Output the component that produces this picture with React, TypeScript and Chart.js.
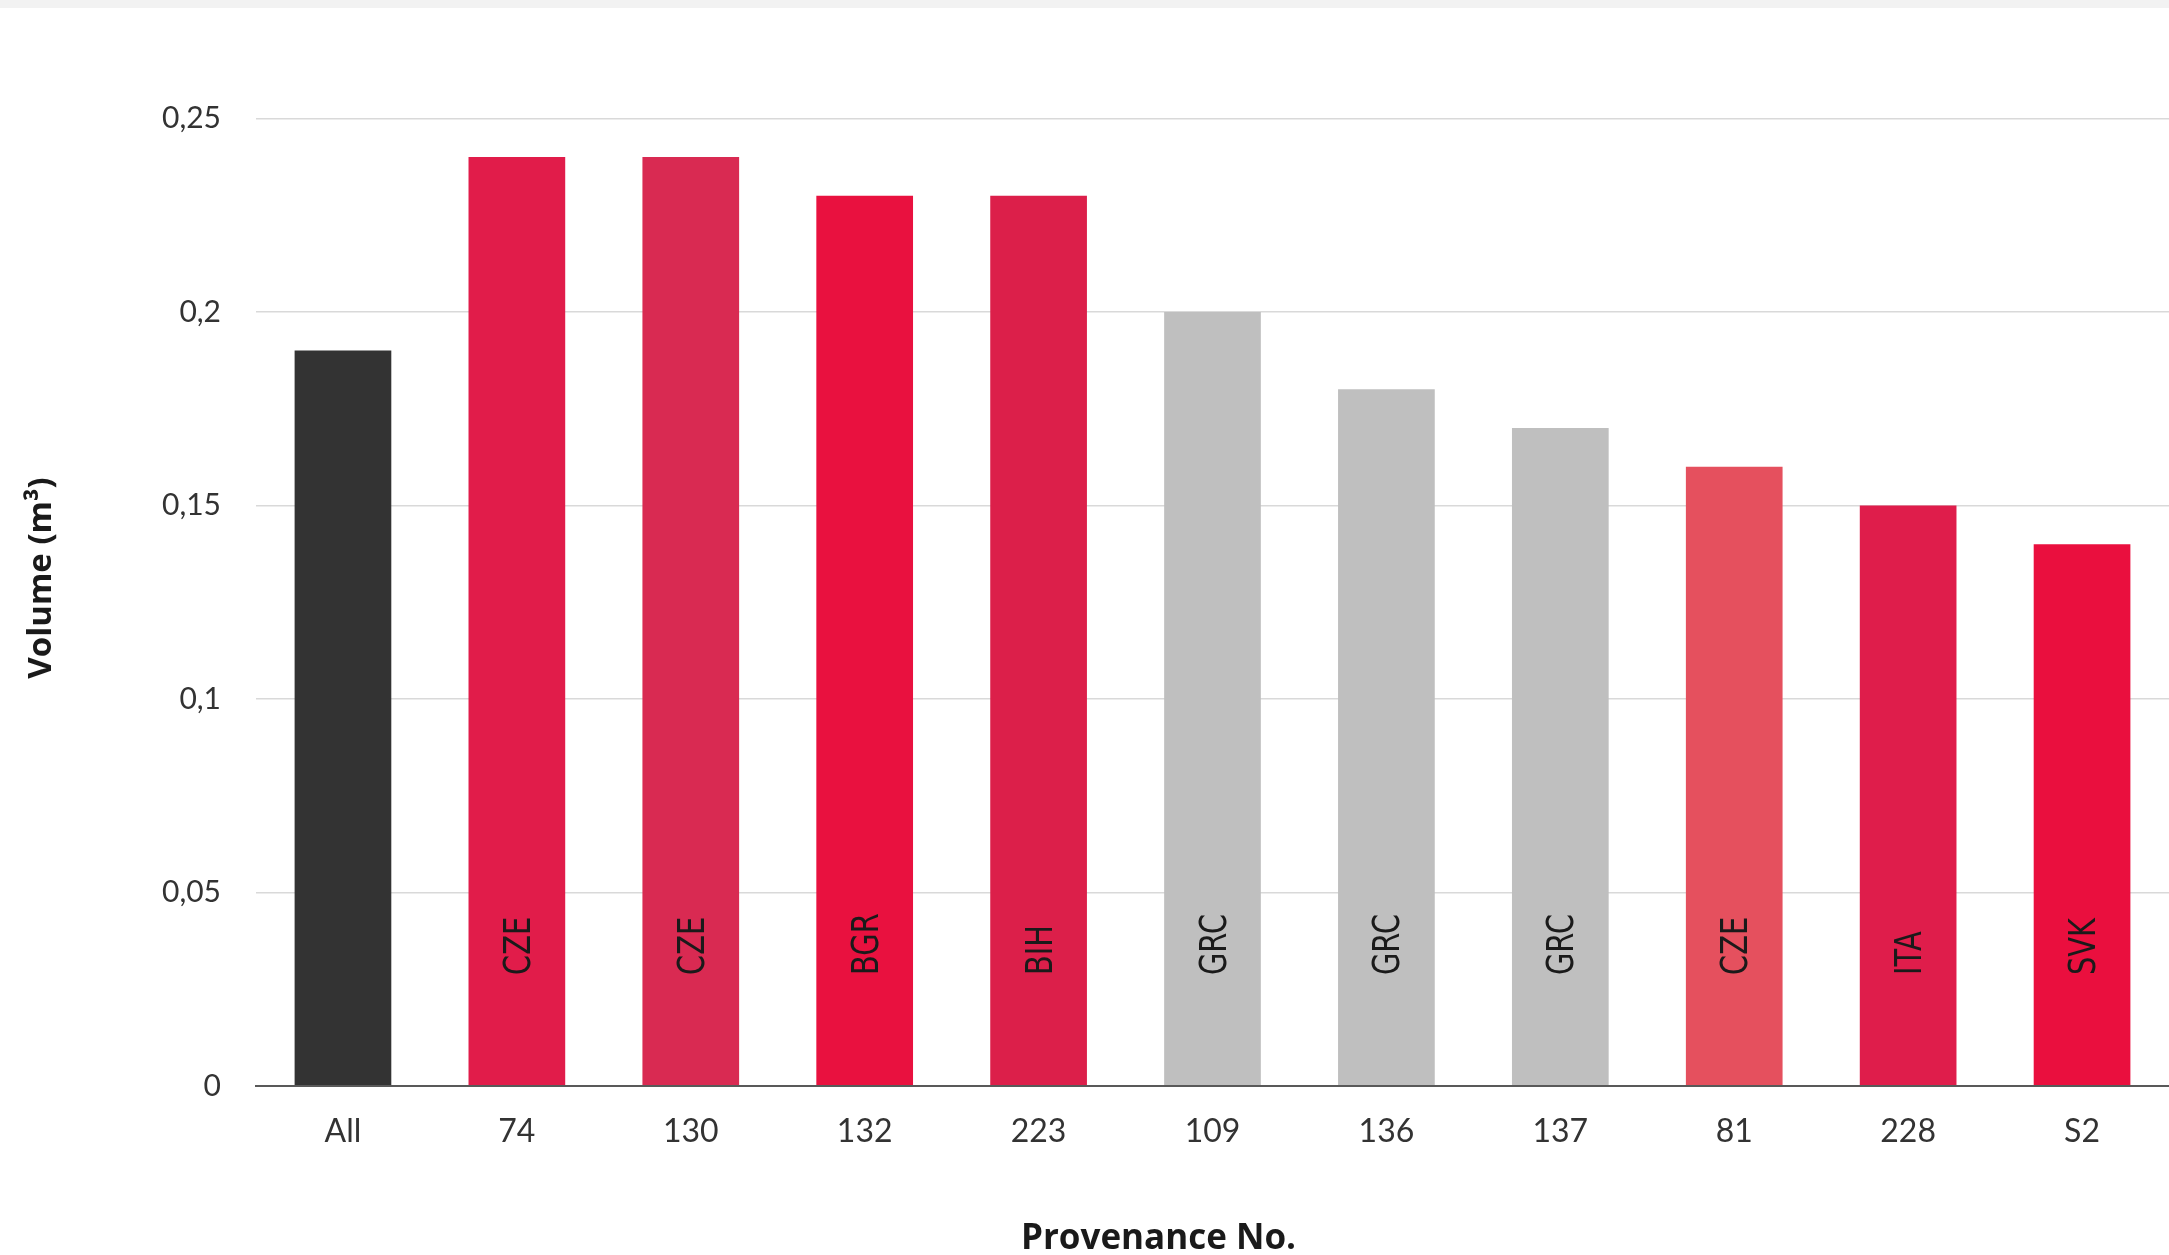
import React, { useEffect, useRef } from "react";
import { Chart, registerables } from "chart.js";

Chart.register(...registerables);

const categories = ["All", "74", "130", "132", "223", "109", "136", "137", "81", "228", "S2"];
const volumes = [0.19, 0.24, 0.24, 0.23, 0.23, 0.2, 0.18, 0.17, 0.16, 0.15, 0.14];
const countries = ["", "CZE", "CZE", "BGR", "BIH", "GRC", "GRC", "GRC", "CZE", "ITA", "SVK"];
const barColors = [
  "#333333",
  "#e11c4a",
  "#d92a52",
  "#e9113f",
  "#dc1f4a",
  "#bfbfbf",
  "#bfbfbf",
  "#bfbfbf",
  "#e5505e",
  "#df1d4b",
  "#ea0f3e",
];
const yTicks = [0, 0.05, 0.1, 0.15, 0.2, 0.25];
const yTickLabels = ["0", "0,05", "0,1", "0,15", "0,2", "0,25"];
const xTitle = "Provenance No.";

const backgroundPlugin = {
  id: "bgStrip",
  beforeDraw(chart: any) {
    const { ctx, width } = chart;
    ctx.save();
    ctx.fillStyle = "#ffffff";
    ctx.fillRect(0, 0, width, chart.height);
    ctx.fillStyle = "#f2f2f2";
    ctx.fillRect(0, 0, width, 8);
    ctx.restore();
  },
};

const xTitlePlugin = {
  id: "xTitle",
  afterDraw(chart: any) {
    const { ctx, chartArea } = chart;
    ctx.save();
    ctx.font = 'bold 35px "Open Sans"';
    ctx.fillStyle = "#1a1a1a";
    ctx.textAlign = "center";
    ctx.textBaseline = "middle";
    ctx.fillText(xTitle, (chartArea.left + chartArea.right) / 2 - 54, chart.height - 16);
    ctx.restore();
  },
};

const insideLabelsPlugin = {
  id: "insideLabels",
  afterDatasetsDraw(chart: any) {
    const meta = chart.getDatasetMeta(0);
    const ctx = chart.ctx;
    const base = chart.chartArea.bottom;
    meta.data.forEach((bar: any, i: number) => {
      const t = countries[i];
      if (!t) return;
      ctx.save();
      ctx.translate(bar.x, base - 111);
      ctx.rotate(-Math.PI / 2);
      ctx.scale(0.78, 1);
      ctx.font = '37px "DejaVu Sans"';
      ctx.fillStyle = "#1a1a1a";
      ctx.textAlign = "left";
      ctx.textBaseline = "alphabetic";
      ctx.fillText(t, 0, 13);
      ctx.restore();
    });
  },
};

export default function App() {
  const canvasRef = useRef<HTMLCanvasElement | null>(null);

  useEffect(() => {
    if (!canvasRef.current) return;
    const chart = new Chart(canvasRef.current, {
      type: "bar",
      data: {
        labels: categories,
        datasets: [
          {
            data: volumes,
            backgroundColor: barColors,
            borderWidth: 0,
            categoryPercentage: 1,
            barPercentage: 0.556,
          },
        ],
      },
      options: {
        responsive: false,
        animation: false,
        layout: { padding: { top: 70, right: 0, left: 0, bottom: 0 } },
        plugins: {
          legend: { display: false },
          tooltip: { enabled: false },
        },
        scales: {
          x: {
            grid: { display: false, drawTicks: false },
            border: { display: true, color: "#595959", width: 2 },
            ticks: {
              padding: 26,
              color: "#333333",
              font: { family: "Lato", size: 32 },
            },
            afterFit: (s: any) => {
              s.height = 169;
            },
            title: { display: false },
          },
          y: {
            min: 0,
            max: 0.2625,
            afterBuildTicks: (s: any) => {
              s.ticks = yTicks.map((v) => ({ value: v }));
            },
            afterFit: (s: any) => {
              s.width = 256;
            },
            grid: {
              drawTicks: false,
              color: (c: any) => (c.tick && c.tick.value === 0 ? "#595959" : "#d9d9d9"),
              lineWidth: (c: any) => (c.tick && c.tick.value === 0 ? 2 : 1.5),
            },
            border: { display: false },
            ticks: {
              padding: 35,
              color: "#333333",
              font: { family: "Lato", size: 30 },
              callback: (_v: any, i: number) => yTickLabels[i],
            },
            title: {
              display: true,
              text: "Volume (m³)",
              color: "#1a1a1a",
              font: { family: "Open Sans", size: 33, weight: "bold" },
              padding: { top: 22, bottom: 0 },
            },
          },
        },
      } as any,
      plugins: [backgroundPlugin, insideLabelsPlugin, xTitlePlugin],
    });
    return () => chart.destroy();
  }, []);

  return (
    <div style={{ position: "absolute", left: 0, top: 0, width: 2169, height: 1255 }}>
      <canvas ref={canvasRef} width={2169} height={1255} />
    </div>
  );
}
